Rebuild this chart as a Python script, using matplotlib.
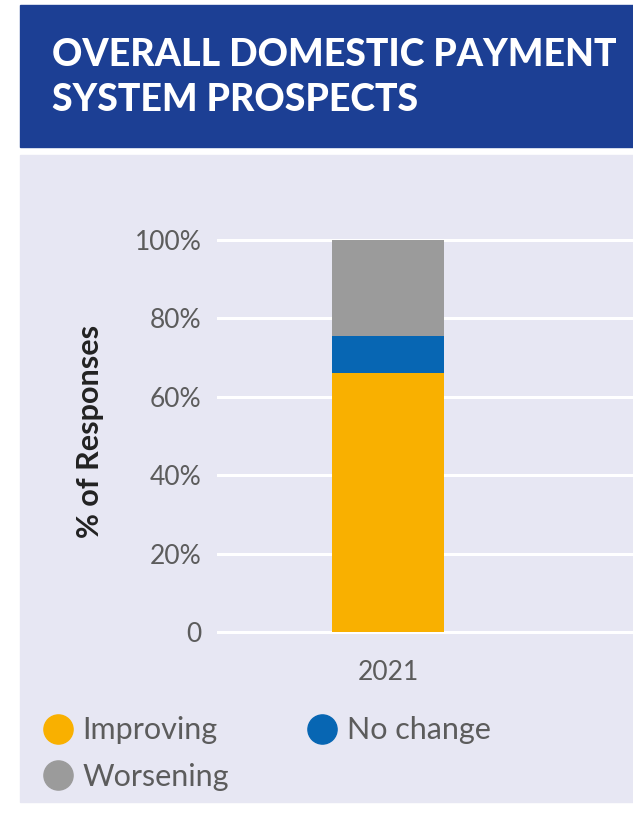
import matplotlib
matplotlib.use('Agg')
import matplotlib.pyplot as plt
from matplotlib.patches import Rectangle
from matplotlib.lines import Line2D

# data
years = ['2021']
improving = [66.0]
no_change = [9.5]
worsening = [24.5]
series_names = ['Improving', 'No change', 'Worsening']
series_colors = ['#f9b000', '#0766b3', '#9b9b9b']
yticks = [0, 20, 40, 60, 80, 100]
ytick_labels = ['0', '20%', '40%', '60%', '80%', '100%']
title_lines = ['OVERALL DOMESTIC PAYMENT', 'SYSTEM PROSPECTS']

W, H = 633, 814
panel_col = '#e7e7f3'
header_col = '#1c3f94'
text_col = '#5c5c5c'

fig = plt.figure(figsize=(W / 100, H / 100), dpi=100)
fig.patch.set_facecolor('white')

def fx(px):
    return px / W

def fy(py):
    return 1 - py / H

# background panel and header band
fig.add_artist(Rectangle((fx(20), fy(802)), fx(613), (802 - 155) / H,
                         transform=fig.transFigure, color=panel_col, zorder=0))
fig.add_artist(Rectangle((fx(20), fy(147)), fx(613), (147 - 5) / H,
                         transform=fig.transFigure, color=header_col, zorder=0))
fig.text(fx(52), fy(66), title_lines[0], color='white', fontsize=27,
         fontweight='black', family='Lato', va='baseline', ha='left')
fig.text(fx(52), fy(111), title_lines[1], color='white', fontsize=27,
         fontweight='black', family='Lato', va='baseline', ha='left')

ax = fig.add_axes([fx(218), fy(632), fx(633 - 218), (632 - 240) / H])
ax.set_facecolor('none')
for s in ax.spines.values():
    s.set_visible(False)

for y in yticks:
    ax.axhline(y, color='white', lw=2.2, zorder=1, clip_on=False)

x = list(range(len(years)))
bottom2 = [a + b for a, b in zip(improving, no_change)]
ax.bar(x, improving, width=0.5, color=series_colors[0], zorder=2)
ax.bar(x, no_change, width=0.5, bottom=improving, color=series_colors[1], zorder=2)
ax.bar(x, worsening, width=0.5, bottom=bottom2, color=series_colors[2], zorder=2)

ax.set_xlim(-0.759, 1.094)
ax.set_ylim(0, 100)
ax.set_yticks(yticks)
ax.set_yticklabels(ytick_labels, family='Lato', fontsize=19, color=text_col)
ax.set_xticks(x)
ax.set_xticklabels(years, family='Lato', fontsize=19, color=text_col)
ax.tick_params(axis='both', length=0)
ax.tick_params(axis='y', pad=12)
ax.tick_params(axis='x', pad=20)

fig.text(fx(90), fy(431), '% of Responses', rotation=90, family='Lato',
         fontweight='bold', fontsize=22, color='#222222', ha='center', va='center')

# legend, ordered so rows read Improving / No change, then Worsening
handles = [Line2D([], [], ls='', marker='o', ms=21, color=series_colors[i]) for i in (0, 2, 1)]
labels = [series_names[i] for i in (0, 2, 1)]
fig.legend(handles, labels, ncol=2, loc='upper left', bbox_to_anchor=(fx(26), fy(704)),
           frameon=False, handletextpad=0.15, columnspacing=2.4, labelspacing=0.6,
           handlelength=1.3, borderaxespad=0,
           prop={'family': 'Lato', 'size': 22}, labelcolor=text_col)

fig.savefig('out.png', dpi=100, facecolor=fig.get_facecolor())
